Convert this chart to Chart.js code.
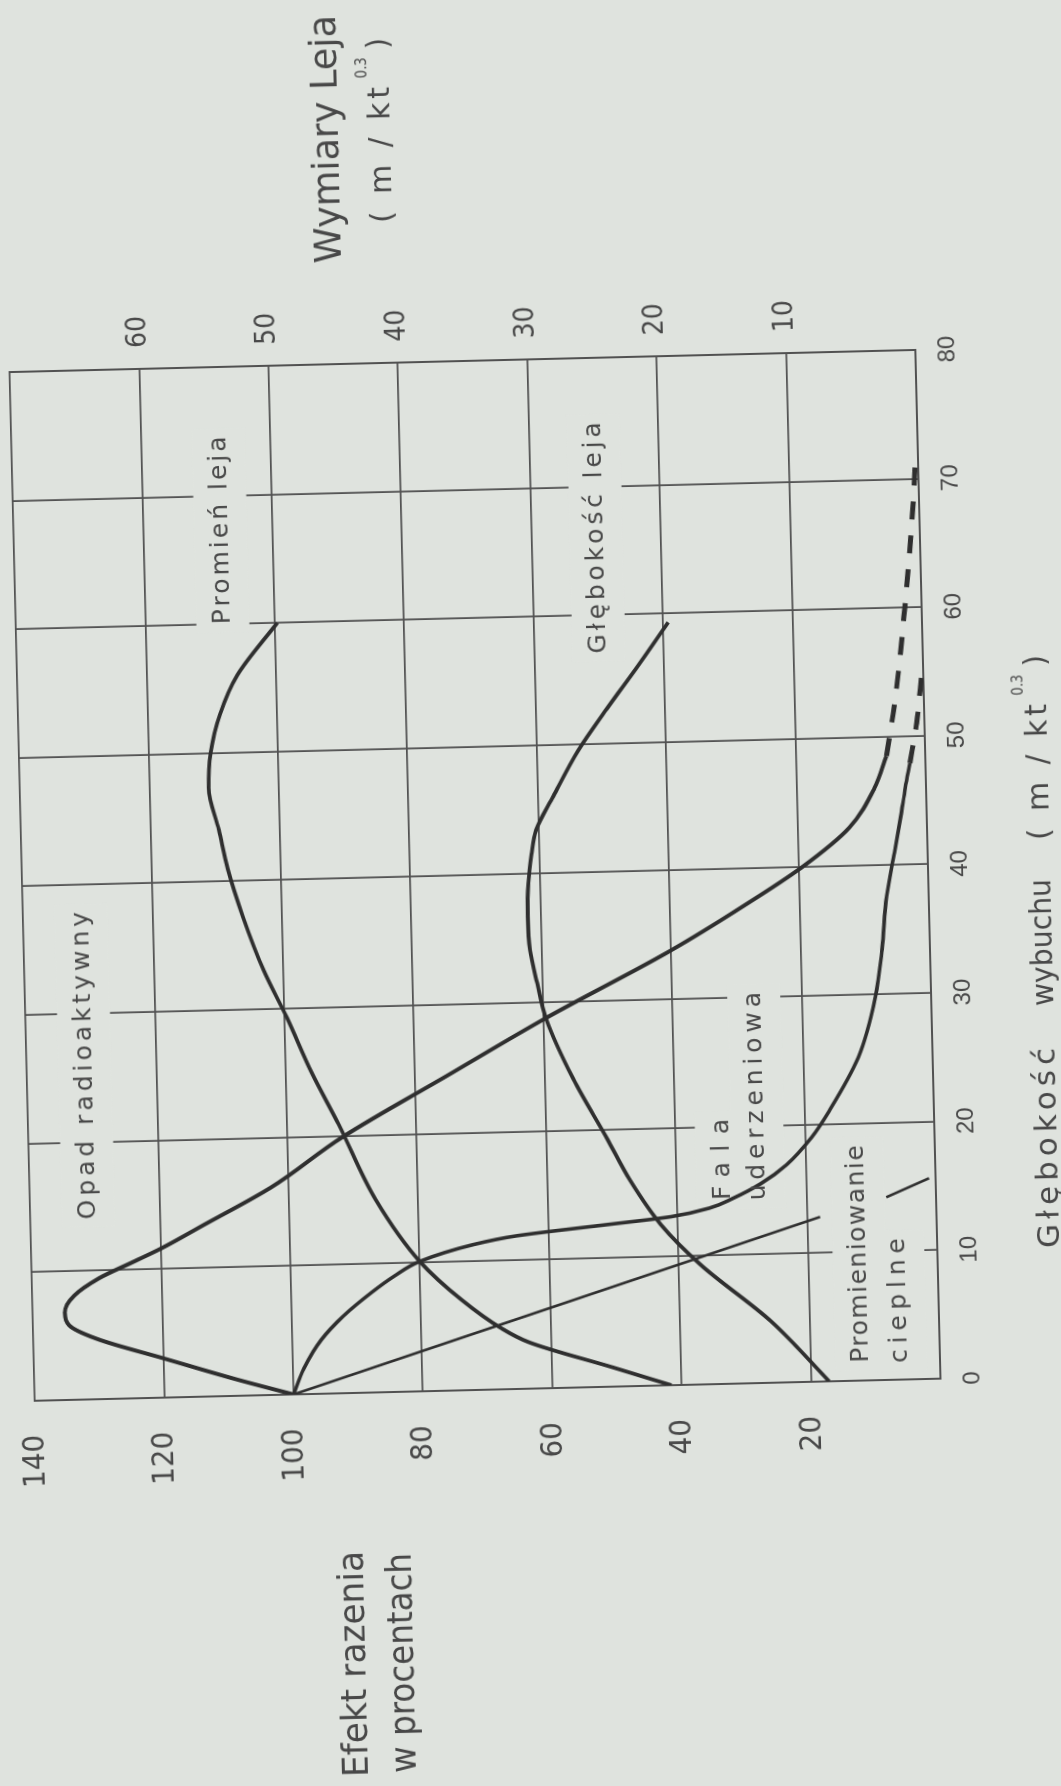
<!DOCTYPE html>
<html>
<head>
<meta charset="utf-8">
<script src="https://cdn.jsdelivr.net/npm/chart.js@4.4.1/dist/chart.umd.min.js"></script>
<style>
  html, body { margin: 0; padding: 0; background: #dfe3de; overflow: hidden; }
  body { width: 1061px; height: 1786px; position: relative; }
  /* wykres rysowany poziomo, strona obrocona jak w skanie */
  #wrap { position: absolute; left: -362.5px; top: 362.5px; width: 1786px; height: 1061px;
          transform: rotate(-91.4deg); transform-origin: 50% 50%; }
</style>
</head>
<body>
<div id="wrap"><canvas id="wykres" width="1786" height="1061"></canvas></div>
<script>
//*** Dane (glebokosc wybuchu m/kt^0.3)
const tickiGlebokosc = [0, 10, 20, 30, 40, 50, 60, 70, 80];
const tickiEfekt = [0, 20, 40, 60, 80, 100, 120, 140];
const opisyEfekt = [20, 40, 60, 80, 100, 120, 140];
const tickiLeja = [0, 10, 20, 30, 40, 50, 60, 70];
const opisyLeja = [10, 20, 30, 40, 50, 60];

// Opad radioaktywny (%)
const opadGl = [0, 1.3, 3, 4.7, 5.8, 6.8, 8.1, 9.4, 10.6, 11.6, 13.3, 16.1, 19.9, 24.5, 28.8, 33.8, 37, 40, 43, 46, 48.5];
const opadEf = [100, 108.9, 119.6, 130.2, 134.4, 135, 133.5, 129.6, 124.3, 119.9, 113.4, 102.8, 91.5, 75, 59.5, 40, 29, 19.5, 12, 8, 6];
const opadKoniecGl = [48.5, 53, 60, 66, 72];
const opadKoniecEf = [6, 4.4, 2.6, 1.3, 0.3];

// Fala uderzeniowa (%)
const falaGl = [0, 2, 4.2, 6, 7.8, 9, 10.1, 11.3, 11.9, 12.6, 13.1, 13.7, 14.4, 15.5, 16.9, 19, 21, 25.1, 29.8, 33.5, 37.6, 41, 43.8, 46, 47.9];
const falaEf = [100, 98.3, 95.5, 92, 87.5, 84, 80, 71.7, 65, 51, 41, 35, 31.4, 27, 23, 19, 16.2, 11.5, 8.6, 7.4, 6.5, 5.1, 4, 3.2, 2.4];
const falaKoniecGl = [47.9, 51, 55];
const falaKoniecEf = [2.4, 1.2, 0.2];

// Promieniowanie cieplne (%)
const cieplneGl = [0, 12.8];
const cieplneEf = [100, 18];
const cieplneKoncowkaGl = [14.2, 15.6];
const cieplneKoncowkaEf = [7.7, 1];

// Promien leja (m/kt^0.3)
const promienGl = [0, 1.5, 3.6, 4.8, 7, 10.1, 15, 20.9, 25, 29.3, 33, 37.2, 41, 44, 47.3, 50, 53, 56, 60];
const promienLeja = [20.8, 25.3, 31.7, 33.9, 36.8, 40, 43.3, 46, 48, 49.8, 51.5, 53, 54.1, 54.7, 55.4, 55.2, 54.4, 53, 49.8];

// Glebokosc leja (m/kt^0.3)
const glebLejaGl = [0, 4.8, 9.3, 12.5, 16, 19.3, 24, 28.8, 31.5, 34.1, 36.7, 39.3, 41.5, 43.4, 46, 49.5, 52.7, 56, 59.3];
const glebLeja = [8.6, 13, 18.3, 21.3, 23.6, 25.3, 27.8, 29.8, 30.4, 30.9, 31, 30.9, 30.6, 30.2, 28.8, 26.8, 24.5, 22, 19.6];

//*** Wyglad
const TLO = "#dfe3de";
const LINIA = "#2f2f2f";
const SIATKA = "#515151";
const TEKST = "#484848";
const FONT_OPIS = "'DejaVu Sans', sans-serif";
const FONT_LICZBY = "'Liberation Sans Narrow', 'DejaVu Sans Condensed', sans-serif";

const punkty = (xs, ys) => xs.map((v, i) => ({ x: v, y: ys[i] }));

// opisy krzywych: poczatek i koniec (glebokosc), linia bazowa (efekt)
const etykiety = [
  { t: "Opad radioaktywny", d0: 14, d1: 37.9, e: 130, s: 25 },
  { t: "Promień leja", d0: 60, d1: 74.6, e: 107, s: 25 },
  { t: "Głębokość leja", d0: 57, d1: 75, e: 49, s: 25 },
  { t: "Fala", d0: 14.3, d1: 20.6, e: 31.9, s: 25 },
  { t: "uderzeniowa", d0: 14.2, d1: 30.4, e: 26.4, s: 25 },
  { t: "Promieniowanie", d0: 1.4, d1: 18.3, e: 11.1, s: 25 },
  { t: "cieplne", d0: 1.3, d1: 11, e: 5.1, s: 25 },
];

// opisy osi w pikselach plotna
const tytuly = [
  { t: "Efekt razenia", x0: 14, x1: 240, y: 346, s: 36 },
  { t: "w procentach", x0: 17, x1: 237, y: 394, s: 36 },
  { t: "Wymiary Leja", x0: 1528, x1: 1776, y: 356, s: 38 },
  { t: "( m / kt", x0: 1567, x1: 1703, y: 408, s: 30 },
  { t: "0.3", x0: 1712, x1: 1733, y: 386, s: 15 },
  { t: ")", x0: 1741, x1: 1752, y: 408, s: 30 },
  { t: "Głębokość", x0: 526, x1: 726, y: 1050, s: 31 },
  { t: "wybuchu", x0: 768, x1: 895, y: 1050, s: 31 },
  { t: "( m / kt", x0: 934, x1: 1070, y: 1050, s: 30 },
  { t: "0.3", x0: 1079, x1: 1100, y: 1027, s: 15 },
  { t: ")", x0: 1108, x1: 1119, y: 1050, s: 30 },
];

function napis(ctx, tekst, x0, x1, y, rozmiar) {
  ctx.font = rozmiar + "px " + FONT_OPIS;
  ctx.letterSpacing = "0px";
  const w = ctx.measureText(tekst).width;
  const cel = x1 - x0;
  ctx.save();
  ctx.translate(x0, y);
  if (w < cel && tekst.length > 1) {
    ctx.letterSpacing = (cel - w) / (tekst.length - 1) + "px";
  } else {
    ctx.scale(cel / w, 1);
  }
  ctx.fillText(tekst, 0, 0);
  ctx.restore();
}

const opisyPlugin = {
  id: "opisy",
  beforeDatasetsDraw(chart) {
    const { ctx, scales } = chart;
    ctx.save();
    ctx.fillStyle = TLO;
    etykiety.forEach((e) => {
      const x0 = scales.x.getPixelForValue(e.d0);
      const x1 = scales.x.getPixelForValue(e.d1);
      const yb = scales.y.getPixelForValue(e.e);
      ctx.fillRect(x0 - 8, yb - e.s * 0.76 - 14, x1 - x0 + 16, e.s + 28);
    });
    ctx.restore();
  },
  afterDatasetsDraw(chart) {
    const { ctx, scales } = chart;
    ctx.save();
    ctx.fillStyle = TEKST;
    ctx.textAlign = "left";
    ctx.textBaseline = "alphabetic";
    etykiety.forEach((e) => {
      napis(ctx, e.t, scales.x.getPixelForValue(e.d0), scales.x.getPixelForValue(e.d1),
        scales.y.getPixelForValue(e.e), e.s);
    });
    tytuly.forEach((t) => napis(ctx, t.t, t.x0, t.x1, t.y, t.s));
    ctx.restore();
  },
};

const seria = (xs, ys, opcje) => Object.assign({
  data: punkty(xs, ys),
  borderColor: LINIA,
  borderWidth: 4,
  pointRadius: 0,
  fill: false,
  cubicInterpolationMode: "monotone",
  yAxisID: "y",
}, opcje);

// stala szerokosc osi, bez dodatkowego marginesu od etykiet
const stalaSzerokosc = (w) => (s) => { s.width = w; s.paddingTop = 0; s.paddingBottom = 0; };

const config = {
  type: "line",
  data: {
    datasets: [
      seria(opadGl, opadEf, { label: "Opad radioaktywny" }),
      seria(opadKoniecGl, opadKoniecEf, { label: "Opad (przedluzenie)", borderDash: [18, 16], borderWidth: 5 }),
      seria(falaGl, falaEf, { label: "Fala uderzeniowa", borderWidth: 3.6 }),
      seria(falaKoniecGl, falaKoniecEf, { label: "Fala (przedluzenie)", borderDash: [18, 16], borderWidth: 5 }),
      seria(cieplneGl, cieplneEf, { label: "Promieniowanie cieplne", borderWidth: 2.6 }),
      seria(cieplneKoncowkaGl, cieplneKoncowkaEf, { label: "cieplne koncowka", borderWidth: 2.6 }),
      seria(promienGl, promienLeja, { label: "Promień leja", yAxisID: "y2", borderWidth: 3.8 }),
      seria(glebLejaGl, glebLeja, { label: "Głębokość leja", yAxisID: "y2", borderWidth: 3.8 }),
    ],
  },
  options: {
    responsive: false,
    animation: false,
    layout: { padding: { top: 22, left: 0, right: 0, bottom: 0 } },
    plugins: { legend: { display: false }, tooltip: { enabled: false } },
    scales: {
      x: {
        type: "linear",
        position: "bottom",
        min: 0,
        max: 80,
        afterBuildTicks: (s) => { s.ticks = tickiGlebokosc.map((v) => ({ value: v })); },
        afterFit: (s) => { s.height = 133; },
        grid: { color: SIATKA, lineWidth: 1.8, drawTicks: false },
        border: { display: true, color: SIATKA, width: 2 },
        ticks: { padding: 18, color: TEKST, maxRotation: 0, font: { family: "'Liberation Sans', sans-serif", size: 24 } },
      },
      y: {
        type: "linear",
        position: "left",
        min: 0,
        max: 140,
        afterBuildTicks: (s) => { s.ticks = tickiEfekt.map((v) => ({ value: v })); },
        afterFit: stalaSzerokosc(398),
        grid: { color: SIATKA, lineWidth: 1.8, drawTicks: false },
        border: { display: true, color: SIATKA, width: 2 },
        ticks: {
          padding: 34,
          color: TEKST,
          font: { family: FONT_LICZBY, size: 31 },
          callback: (v) => (opisyEfekt.includes(v) ? String(v) : ""),
        },
      },
      y2: {
        type: "linear",
        position: "right",
        min: 0,
        max: 70,
        afterBuildTicks: (s) => { s.ticks = tickiLeja.map((v) => ({ value: v })); },
        afterFit: stalaSzerokosc(359),
        grid: { display: false, drawTicks: false },
        border: { display: true, color: SIATKA, width: 2 },
        ticks: {
          padding: 21,
          color: TEKST,
          font: { family: FONT_LICZBY, size: 28 },
          callback: (v) => (opisyLeja.includes(v) ? String(v) : ""),
        },
      },
    },
  },
  plugins: [opisyPlugin],
};

var myChart = new Chart(document.getElementById("wykres"), config);
</script>
</body>
</html>
